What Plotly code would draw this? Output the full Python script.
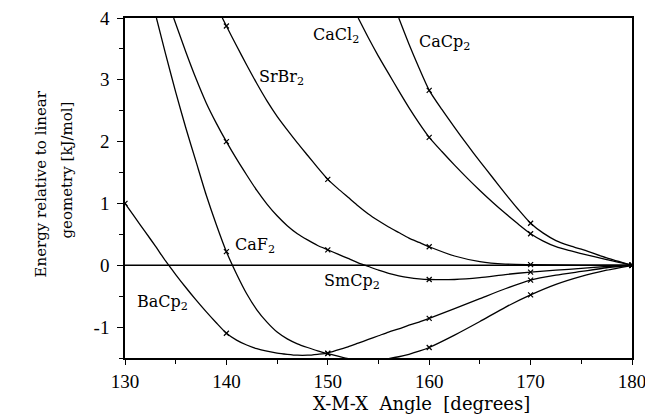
import plotly.graph_objects as go

# ---- data ----
mark_angles = [130, 140, 150, 160, 170, 180]

bacp2_x = [130, 131, 132, 133, 134, 135, 136, 137, 138, 139, 140, 141, 142, 143, 144, 145, 146, 147, 148,
           149, 150, 151, 152, 153, 154, 155, 156, 157, 158, 159, 160, 162.5, 165, 167.5, 170, 172.5, 175, 177.5, 180]
bacp2_y = [1.0, 0.77, 0.54, 0.31, 0.07, -0.15, -0.36, -0.56, -0.75, -0.93, -1.10, -1.21, -1.29, -1.35, -1.39,
           -1.42, -1.44, -1.455, -1.455, -1.44, -1.42, -1.37, -1.32, -1.26, -1.20, -1.14, -1.08, -1.03, -0.97,
           -0.92, -0.86, -0.70, -0.54, -0.38, -0.24, -0.16, -0.10, -0.04, 0.0]
bacp2_m = [1.0, -1.10, -1.42, -0.86, -0.24, 0.0]

caf2_x = [133.1, 134, 135, 136, 137, 138, 139, 140, 141, 142, 143, 144, 145, 146, 147, 148, 149, 150,
          151, 152, 153, 154, 155, 156, 157, 158, 159, 160, 162.5, 165, 167.5, 170, 172.5, 175, 177.5, 180]
caf2_y = [4.0, 3.42, 2.80, 2.22, 1.68, 1.14, 0.66, 0.22, -0.14, -0.46, -0.72, -0.92, -1.08, -1.19, -1.27,
          -1.33, -1.385, -1.43, -1.47, -1.51, -1.535, -1.545, -1.535, -1.51, -1.48, -1.44, -1.39, -1.33,
          -1.13, -0.91, -0.68, -0.48, -0.31, -0.18, -0.08, 0.0]
caf2_m = [None, 0.22, -1.43, -1.33, -0.48, 0.0]

smcp2_x = [134.8, 136, 137, 138, 139, 140, 141, 142, 143, 144, 145, 146, 147, 148, 149, 150, 151, 152,
           153, 154, 155, 156, 157, 158, 159, 160, 162.5, 165, 167.5, 170, 172.5, 175, 177.5, 180]
smcp2_y = [4.0, 3.45, 3.02, 2.63, 2.30, 2.0, 1.72, 1.46, 1.21, 0.99, 0.80, 0.64, 0.51, 0.41, 0.32, 0.25,
           0.18, 0.11, 0.04, -0.02, -0.08, -0.13, -0.17, -0.20, -0.22, -0.23, -0.23, -0.20, -0.15, -0.11,
           -0.08, -0.05, -0.02, 0.0]
smcp2_m = [None, 2.0, 0.25, -0.23, -0.11, 0.0]

srbr2_x = [139.6, 140, 141, 142, 143, 144, 145, 146, 147, 148, 149, 150, 151, 152, 153, 154, 155, 156,
           157, 158, 159, 160, 162.5, 165, 167.5, 170, 175, 180]
srbr2_y = [4.0, 3.87, 3.55, 3.24, 2.94, 2.66, 2.41, 2.19, 1.98, 1.78, 1.58, 1.39, 1.24, 1.10, 0.96, 0.83,
           0.72, 0.62, 0.53, 0.44, 0.37, 0.30, 0.15, 0.06, 0.02, 0.01, 0.0, 0.0]
srbr2_m = [None, 3.87, 1.39, 0.30, 0.01, 0.0]

cacl2_x = [153, 154, 155, 156, 157, 158, 159, 160, 161.25, 162.5, 163.75, 165, 166.25, 167.5, 168.75,
           170, 171.25, 172.5, 173.75, 175, 177.5, 180]
cacl2_y = [4.0, 3.68, 3.38, 3.10, 2.82, 2.55, 2.30, 2.07, 1.84, 1.62, 1.41, 1.21, 1.02, 0.84, 0.67,
           0.51, 0.39, 0.30, 0.24, 0.19, 0.09, 0.0]
cacl2_m = [None, None, None, 2.07, 0.51, 0.0]

cacp2_x = [157, 158, 159, 160, 161.25, 162.5, 163.75, 165, 166.25, 167.5, 168.75, 170, 171.25, 172.5,
           173.75, 175, 177.5, 180]
cacp2_y = [4.0, 3.58, 3.19, 2.83, 2.52, 2.23, 1.95, 1.68, 1.42, 1.16, 0.91, 0.68, 0.52, 0.40, 0.32,
           0.26, 0.12, 0.0]
cacp2_m = [None, None, None, 2.83, 0.68, 0.0]

linear_x = [130, 180]
linear_y = [0, 0]

labels = ["BaCp<sub>2</sub>", "CaF<sub>2</sub>", "SmCp<sub>2</sub>", "SrBr<sub>2</sub>",
          "CaCl<sub>2</sub>", "CaCp<sub>2</sub>"]
label_x = [133.7, 142.8, 152.4, 145.4, 150.8, 161.5]
label_y = [-0.6, 0.32, -0.26, 3.04, 3.72, 3.6]

x_ticks = [130, 140, 150, 160, 170, 180]
x_ticktext = ["130", "140", "150", "160", "170", "180"]
y_ticks = [-1, 0, 1, 2, 3, 4]
y_ticktext = ["-1", "0", "1", "2", "3", "4"]

# ---- figure ----
fig = go.Figure()

fig.add_trace(go.Scatter(x=linear_x, y=linear_y, mode="lines",
                         line=dict(color="black", width=1.6), showlegend=False))

curves = [(bacp2_x, bacp2_y, bacp2_m), (caf2_x, caf2_y, caf2_m), (smcp2_x, smcp2_y, smcp2_m),
          (srbr2_x, srbr2_y, srbr2_m), (cacl2_x, cacl2_y, cacl2_m), (cacp2_x, cacp2_y, cacp2_m)]
for cx, cy, cm in curves:
    fig.add_trace(go.Scatter(x=cx, y=cy, mode="lines",
                             line=dict(color="black", width=1.3, shape="spline", smoothing=0.6),
                             showlegend=False))
    fig.add_trace(go.Scatter(x=mark_angles, y=cm, mode="markers",
                             marker=dict(symbol="x-thin", size=5, line=dict(color="black", width=1.2)),
                             showlegend=False))

serif = "DejaVu Serif"
for t, lx, ly in zip(labels, label_x, label_y):
    fig.add_annotation(x=lx, y=ly, text=t, showarrow=False, xref="x", yref="y",
                       xanchor="center", yanchor="middle",
                       font=dict(family=serif, size=16, color="black"))

fig.add_annotation(x=-0.166, y=0.513, xref="paper", yref="paper", text="Energy relative to linear",
                   textangle=-90, showarrow=False, xanchor="center", yanchor="middle",
                   font=dict(family=serif, size=15, color="black"))
fig.add_annotation(x=-0.114, y=0.552, xref="paper", yref="paper", text="geometry [kJ/mol]",
                   textangle=-90, showarrow=False, xanchor="center", yanchor="middle",
                   font=dict(family=serif, size=15, color="black"))
fig.add_annotation(x=0.584, y=-0.135, xref="paper", yref="paper", text="X-M-X  Angle  [degrees]",
                   showarrow=False, xanchor="center", yanchor="middle",
                   font=dict(family=serif, size=18, color="black"))

fig.update_xaxes(range=[130, 180], tickmode="array", tickvals=x_ticks, ticktext=x_ticktext,
                 ticks="outside", ticklen=5, tickwidth=1.3, tickcolor="black",
                 minor=dict(dtick=5, tick0=130, ticks="outside", ticklen=4, tickcolor="black"),
                 showline=True, linecolor="black", linewidth=1.6, mirror=True,
                 showgrid=False, zeroline=False, automargin=False, ticklabeloverflow="allow",
                 tickfont=dict(family="Liberation Serif", size=19, color="black"))
fig.update_yaxes(range=[-1.5, 4], tickmode="array", tickvals=y_ticks, ticktext=y_ticktext,
                 ticks="outside", ticklen=6, tickwidth=1.3, tickcolor="black",
                 minor=dict(dtick=0.5, tick0=0, ticks="outside", ticklen=4, tickcolor="black"),
                 showline=True, linecolor="black", linewidth=1.6, mirror=True,
                 showgrid=False, zeroline=False, ticklabelstandoff=4, automargin=False,
                 tickfont=dict(family="Liberation Serif", size=19, color="black"))

fig.update_layout(width=645, height=419, margin=dict(l=125, r=13, t=18, b=61, pad=0),
                  plot_bgcolor="white", paper_bgcolor="white", showlegend=False)

fig.write_html("out.html", config={"displayModeBar": False},
               post_script="document.body.style.margin='0';document.body.style.overflow='hidden';")
